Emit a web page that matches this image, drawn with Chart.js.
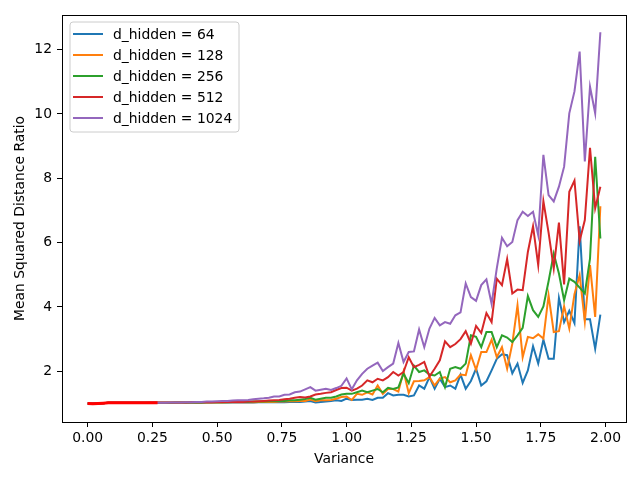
<!DOCTYPE html>
<html>
<head>
<meta charset="utf-8">
<script src="https://cdn.jsdelivr.net/npm/chart.js@4.4.1/dist/chart.umd.min.js"></script>
<style>
  html, body { margin: 0; padding: 0; background: #fff; }
  #wrap { width: 640px; height: 480px; }
</style>
</head>
<body>
<div id="wrap"><canvas id="chart" width="640" height="480"></canvas></div>
<script>
// variance grid (x values)
const variance = [
  0.00, 0.02, 0.04, 0.06, 0.08, 0.10, 0.12, 0.14, 0.16, 0.18,
  0.20, 0.22, 0.24, 0.26, 0.28, 0.30, 0.32, 0.34, 0.36, 0.38,
  0.40, 0.42, 0.44, 0.46, 0.48, 0.50, 0.52, 0.54, 0.56, 0.58,
  0.60, 0.62, 0.64, 0.66, 0.68, 0.70, 0.72, 0.74, 0.76, 0.78,
  0.80, 0.82, 0.84, 0.86, 0.88, 0.90, 0.92, 0.94, 0.96, 0.98,
  1.00, 1.02, 1.04, 1.06, 1.08, 1.10, 1.12, 1.14, 1.16, 1.18,
  1.20, 1.22, 1.24, 1.26, 1.28, 1.30, 1.32, 1.34, 1.36, 1.38,
  1.40, 1.42, 1.44, 1.46, 1.48, 1.50, 1.52, 1.54, 1.56, 1.58,
  1.60, 1.62, 1.64, 1.66, 1.68, 1.70, 1.72, 1.74, 1.76, 1.78,
  1.80, 1.82, 1.84, 1.86, 1.88, 1.90, 1.92, 1.94, 1.96, 1.98
];

// mean squared distance ratio per hidden size
const hidden64 = [
  1.00, 1.00, 1.00, 1.01, 1.02, 1.02, 1.02, 1.02, 1.02, 1.02,
  1.02, 1.02, 1.02, 1.02, 1.02, 1.02, 1.02, 1.02, 1.02, 1.02,
  1.02, 1.02, 1.02, 1.03, 1.03, 1.03, 1.03, 1.03, 1.03, 1.03,
  1.03, 1.03, 1.03, 1.04, 1.04, 1.04, 1.04, 1.05, 1.04, 1.05,
  1.05, 1.05, 1.06, 1.08, 1.03, 1.05, 1.06, 1.08, 1.10, 1.08,
  1.15, 1.11, 1.12, 1.12, 1.15, 1.11, 1.18, 1.18, 1.32, 1.25,
  1.27, 1.27, 1.22, 1.25, 1.56, 1.46, 1.82, 1.46, 1.77, 1.51,
  1.56, 1.46, 1.90, 1.46, 1.70, 2.08, 1.56, 1.69, 2.03, 2.39,
  2.53, 2.50, 1.94, 2.24, 1.64, 2.03, 2.78, 2.24, 2.98, 2.39,
  2.39, 4.28, 3.53, 3.88, 3.50, 6.51, 3.62, 3.62, 2.70, 3.76
];
const hidden128 = [
  1.00, 1.00, 1.00, 1.01, 1.02, 1.02, 1.02, 1.02, 1.02, 1.02,
  1.02, 1.02, 1.02, 1.02, 1.02, 1.02, 1.02, 1.02, 1.02, 1.03,
  1.03, 1.03, 1.03, 1.03, 1.03, 1.03, 1.03, 1.04, 1.04, 1.04,
  1.04, 1.04, 1.04, 1.05, 1.05, 1.05, 1.05, 1.06, 1.06, 1.07,
  1.07, 1.08, 1.08, 1.12, 1.07, 1.10, 1.10, 1.11, 1.15, 1.20,
  1.22, 1.11, 1.30, 1.27, 1.35, 1.28, 1.56, 1.30, 1.45, 1.45,
  1.37, 2.00, 1.32, 1.69, 1.70, 1.72, 1.82, 1.56, 1.77, 1.82,
  1.66, 1.72, 1.90, 1.88, 2.50, 2.05, 2.60, 2.60, 2.98, 2.44,
  2.75, 2.08, 2.86, 4.05, 2.44, 3.07, 3.03, 3.15, 3.02, 4.36,
  3.22, 3.25, 4.02, 3.33, 4.40, 4.99, 3.55, 5.30, 3.69, 7.13
];
const hidden256 = [
  1.00, 1.00, 1.00, 1.01, 1.02, 1.02, 1.02, 1.02, 1.02, 1.02,
  1.02, 1.02, 1.02, 1.02, 1.02, 1.02, 1.02, 1.03, 1.03, 1.03,
  1.03, 1.03, 1.03, 1.04, 1.04, 1.04, 1.04, 1.04, 1.05, 1.05,
  1.05, 1.05, 1.06, 1.06, 1.06, 1.07, 1.07, 1.08, 1.08, 1.10,
  1.10, 1.12, 1.14, 1.18, 1.12, 1.15, 1.18, 1.18, 1.22, 1.28,
  1.30, 1.30, 1.35, 1.40, 1.35, 1.40, 1.45, 1.35, 1.49, 1.45,
  1.50, 1.93, 1.63, 2.18, 1.98, 2.03, 1.90, 1.87, 1.98, 1.51,
  2.08, 2.13, 2.08, 2.24, 3.12, 3.07, 2.75, 3.22, 3.22, 2.75,
  3.12, 3.05, 2.91, 3.12, 3.35, 4.34, 3.90, 3.69, 4.02, 4.80,
  5.66, 5.04, 4.21, 4.88, 4.78, 4.60, 4.42, 5.50, 8.67, 6.13
];
const hidden512 = [
  1.00, 1.00, 1.00, 1.01, 1.02, 1.02, 1.02, 1.02, 1.02, 1.02,
  1.02, 1.02, 1.03, 1.03, 1.03, 1.03, 1.03, 1.03, 1.03, 1.03,
  1.04, 1.04, 1.04, 1.04, 1.04, 1.05, 1.05, 1.05, 1.05, 1.05,
  1.05, 1.06, 1.06, 1.07, 1.08, 1.09, 1.10, 1.11, 1.13, 1.15,
  1.18, 1.20, 1.19, 1.22, 1.28, 1.30, 1.33, 1.35, 1.42, 1.48,
  1.49, 1.40, 1.46, 1.56, 1.72, 1.66, 1.77, 1.72, 1.82, 1.98,
  1.87, 1.98, 2.44, 2.13, 2.20, 2.29, 1.84, 2.08, 2.34, 2.93,
  2.75, 2.85, 3.00, 3.25, 2.86, 3.41, 3.19, 3.81, 3.53, 4.88,
  4.68, 5.49, 4.42, 4.54, 4.52, 5.71, 6.51, 5.30, 7.29, 6.31,
  5.20, 6.62, 4.70, 7.58, 7.93, 6.05, 6.70, 8.95, 7.07, 7.74
];
const hidden1024 = [
  1.00, 1.00, 1.00, 1.01, 1.02, 1.02, 1.02, 1.02, 1.02, 1.02,
  1.02, 1.02, 1.02, 1.02, 1.02, 1.02, 1.03, 1.03, 1.03, 1.04,
  1.04, 1.05, 1.05, 1.06, 1.06, 1.07, 1.08, 1.08, 1.09, 1.10,
  1.10, 1.11, 1.13, 1.15, 1.16, 1.18, 1.22, 1.22, 1.27, 1.28,
  1.35, 1.37, 1.44, 1.51, 1.40, 1.43, 1.46, 1.42, 1.48, 1.55,
  1.78, 1.44, 1.72, 1.92, 2.08, 2.18, 2.27, 2.01, 2.13, 2.24,
  2.88, 2.29, 2.60, 2.62, 3.30, 2.75, 3.33, 3.66, 3.43, 3.53,
  3.48, 3.74, 3.83, 4.73, 4.31, 4.19, 4.68, 4.86, 4.10, 5.20,
  6.15, 5.89, 6.02, 6.70, 6.96, 6.83, 6.96, 6.23, 8.73, 7.48,
  7.28, 7.74, 8.36, 10.02, 10.70, 11.94, 8.52, 10.85, 10.02, 12.54
];

// thick red segment over the start of the curves
const baseX = [0.00, 0.02, 0.04, 0.06, 0.08, 0.10, 0.12, 0.14, 0.16, 0.18, 0.20, 0.22, 0.24, 0.26, 0.27];
const baseY = [1.00, 0.99, 1.00, 1.01, 1.02, 1.02, 1.02, 1.02, 1.02, 1.02, 1.02, 1.02, 1.02, 1.02, 1.02];

const seriesLabels = ['d_hidden = 64', 'd_hidden = 128', 'd_hidden = 256', 'd_hidden = 512', 'd_hidden = 1024'];
const seriesColors = ['#1f77b4', '#ff7f0e', '#2ca02c', '#d62728', '#9467bd'];
const xTicks = [0, 0.25, 0.5, 0.75, 1.0, 1.25, 1.5, 1.75, 2.0];
const yTicks = [2, 4, 6, 8, 10, 12];

const FONT = 'DejaVu Sans';

function pts(xs, ys) {
  return xs.map((x, i) => ({ x: x, y: ys[i] }));
}

const allSeries = [hidden64, hidden128, hidden256, hidden512, hidden1024];
const datasets = allSeries.map((ys, k) => ({
  label: seriesLabels[k],
  data: pts(variance, ys),
  borderColor: seriesColors[k],
  backgroundColor: seriesColors[k],
  borderWidth: 2,
  pointRadius: 0,
  tension: 0,
  order: 5 - k
}));
datasets.push({
  label: 'base',
  data: pts(baseX, baseY),
  borderColor: '#ff0000',
  borderWidth: 3,
  pointRadius: 0,
  tension: 0,
  order: 0
});

// frame around the plot area + matplotlib-like legend box
const framePlugin = {
  id: 'frame',
  afterDraw(chart) {
    const { ctx, chartArea: a } = chart;
    ctx.save();
    ctx.strokeStyle = '#000';
    ctx.lineWidth = 1;
    ctx.strokeRect(Math.round(a.left) + 0.5, Math.round(a.top) + 0.5,
      Math.round(a.right - a.left), Math.round(a.bottom - a.top));

    // legend
    const lx = a.left + 8, ly = a.top + 7, lw = 169, lh = 110, r = 3;
    ctx.fillStyle = 'rgba(255,255,255,0.8)';
    ctx.strokeStyle = '#cccccc';
    ctx.beginPath();
    ctx.moveTo(lx + r, ly);
    ctx.arcTo(lx + lw, ly, lx + lw, ly + lh, r);
    ctx.arcTo(lx + lw, ly + lh, lx, ly + lh, r);
    ctx.arcTo(lx, ly + lh, lx, ly, r);
    ctx.arcTo(lx, ly, lx + lw, ly, r);
    ctx.closePath();
    ctx.fill();
    ctx.stroke();

    ctx.font = '13.9px "' + FONT + '"';
    ctx.textBaseline = 'middle';
    ctx.textAlign = 'left';
    for (let k = 0; k < seriesLabels.length; k++) {
      const y = ly + 12 + k * 21;
      ctx.strokeStyle = seriesColors[k];
      ctx.lineWidth = 2;
      ctx.beginPath();
      ctx.moveTo(lx + 3, y);
      ctx.lineTo(lx + 33, y);
      ctx.stroke();
      ctx.fillStyle = '#000';
      ctx.fillText(seriesLabels[k], lx + 43, y + 1);
    }
    ctx.restore();
  }
};

new Chart(document.getElementById('chart'), {
  type: 'line',
  data: { datasets: datasets },
  plugins: [framePlugin],
  options: {
    responsive: false,
    animation: false,
    layout: { padding: { top: 15, right: 14, left: 8, bottom: 8 } },
    plugins: { legend: { display: false }, tooltip: { enabled: false } },
    scales: {
      x: {
        type: 'linear',
        min: -0.099,
        max: 2.079,
        afterBuildTicks: s => { s.ticks = xTicks.map(v => ({ value: v })); },
        afterFit: s => { s.height = 50; },
        ticks: {
          color: '#000',
          font: { family: FONT, size: 13.9 },
          padding: 3,
          maxRotation: 0,
          callback: v => Number(v).toFixed(2)
        },
        grid: { drawOnChartArea: false, tickLength: 5, color: '#000', tickWidth: 1 },
        border: { display: false },
        title: { display: true, text: 'Variance', color: '#000', font: { family: FONT, size: 13.9 }, padding: { top: 4 } }
      },
      y: {
        type: 'linear',
        min: 0.425,
        max: 13.075,
        afterBuildTicks: s => { s.ticks = yTicks.map(v => ({ value: v })); },
        afterFit: s => { s.width = 54; },
        ticks: {
          color: '#000',
          font: { family: FONT, size: 13.9 },
          padding: 5
        },
        grid: { drawOnChartArea: false, tickLength: 5, color: '#000', tickWidth: 1 },
        border: { display: false },
        title: { display: true, text: 'Mean Squared Distance Ratio', color: '#000', font: { family: FONT, size: 13.9 }, padding: { bottom: 4 } }
      }
    }
  }
});
</script>
</body>
</html>
